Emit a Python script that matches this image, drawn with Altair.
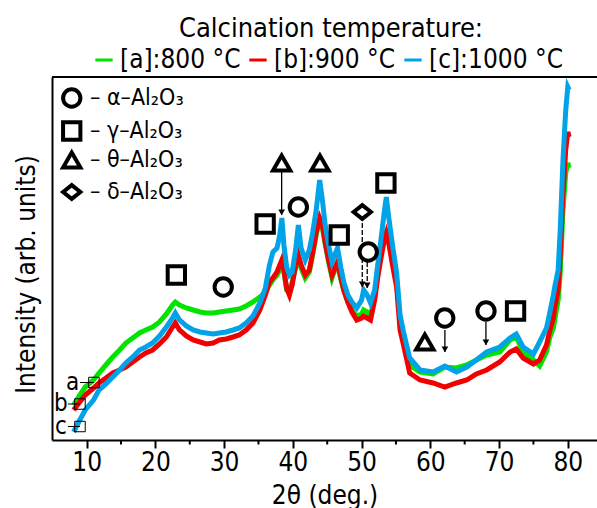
import altair as alt
import pandas as pd

FONT = "'Liberation Sans Narrow', 'DejaVu Sans Condensed', 'DejaVu Sans', sans-serif"

# 2-theta grid (deg.)
two_theta = [8.1, 9.0, 9.8, 11.0, 11.8, 12.8, 13.8, 14.8, 15.7, 16.7, 17.7, 18.6, 19.6, 20.6, 21.6,
             22.5, 22.9, 23.5, 24.5, 25.5, 26.5, 27.4, 28.4, 29.3, 30.3, 31.3, 32.2, 33.2, 34.2, 35.2,
             36.0, 36.6, 37.1, 37.7, 38.1, 38.4, 38.7, 39.1, 39.5, 39.9, 40.4, 40.8, 41.2, 41.8, 42.4,
             42.9, 43.4, 43.9, 44.3, 44.7, 45.2, 45.7, 46.1, 46.5, 47.0, 47.4, 48.0, 48.6, 49.3, 50.0,
             50.3, 50.8, 51.3, 51.9, 52.4, 52.9, 53.3, 53.6, 54.0, 54.5, 55.1, 55.6, 56.1, 57.0, 58.5,
             60.4, 62.1, 63.8, 65.3, 66.7, 68.2, 70.1, 71.6, 72.5, 73.5, 75.0, 75.9, 76.9, 77.4, 77.9,
             78.1, 78.6, 78.9, 79.3, 79.7, 80.0, 80.2]

# [a] 800 C
int_800 = [35, 45, 53, 60, 67, 75, 83, 90, 97, 102, 107, 110, 113, 118, 126,
           135, 138, 135, 132, 130, 128, 127, 127, 128, 129, 130, 131, 134, 138, 143,
           148, 155, 160, 165, 170, 175, 168, 150, 148, 158, 172, 178, 172, 162, 168,
           186, 205, 220, 212, 196, 178, 162, 170, 176, 160, 150, 138, 130, 124, 126,
           130, 128, 124, 143, 168, 188, 202, 210, 198, 178, 156, 120, 105, 75, 68,
           66, 73, 72, 75, 80, 85, 88, 100, 103, 88, 80, 74, 88, 103, 112,
           120, 140, 167, 230, 267, 277, 272]

# [b] 900 C
int_900 = [30, 38, 45, 52, 57, 62, 67, 70, 73, 78, 83, 87, 90, 96, 103,
           113, 117, 110, 104, 100, 98, 96, 97, 100, 101, 103, 105, 110, 117, 130,
           145, 158, 162, 168, 175, 180, 170, 152, 145, 155, 175, 185, 175, 165, 170,
           188, 208, 222, 215, 198, 180, 165, 172, 178, 162, 150, 138, 128, 120, 122,
           124, 122, 120, 140, 165, 185, 200, 207, 195, 175, 153, 110, 95, 67, 60,
           57, 53, 57, 60, 66, 70, 78, 88, 91, 82, 76, 80, 95, 110, 122,
           132, 150, 185, 246, 290, 308, 303]

# [c] 1000 C
int_1000 = [8, 20, 30, 40, 50, 56, 63, 70, 77, 83, 90, 93, 97, 104, 113,
            122, 127, 120, 114, 110, 108, 107, 106, 107, 108, 110, 112, 117, 124, 137,
            152, 175, 188, 192, 205, 222, 195, 173, 165, 168, 190, 215, 192, 180, 190,
            208, 230, 260, 240, 215, 195, 178, 185, 192, 172, 158, 145, 138, 132, 140,
            150, 145, 137, 150, 178, 205, 228, 243, 220, 195, 167, 125, 108, 82, 70,
            68, 74, 68, 73, 80, 88, 93, 102, 106, 93, 86, 98, 112, 128, 145,
            153, 170, 210, 280, 330, 353, 350]

series_names = ["[a]:800 °C", "[b]:900 °C", "[c]:1000 °C"]
series_colors = ["#00e400", "#f20000", "#00a2e8"]
series_values = [int_800, int_900, int_1000]

# phase identification symbols
phase_names = ["α–Al₂O₃", "γ–Al₂O₃", "θ–Al₂O₃", "δ–Al₂O₃"]
phase_shapes = ["circle", "square", "triangle-up", "M-1,0L0,-0.8L1,0L0,0.8Z"]
peak_pos = [23.05, 29.87, 35.97, 38.37, 40.8, 43.94, 46.75, 50.1, 50.97, 53.54, 59.2, 62.1, 68.1, 72.4]
peak_int = [165, 153, 216, 277, 233, 277, 205, 228, 188, 257, 98, 122, 129, 129]
peak_phase = ["γ–Al₂O₃", "α–Al₂O₃", "γ–Al₂O₃", "θ–Al₂O₃", "α–Al₂O₃", "θ–Al₂O₃", "γ–Al₂O₃",
              "δ–Al₂O₃", "α–Al₂O₃", "γ–Al₂O₃", "θ–Al₂O₃", "α–Al₂O₃", "α–Al₂O₃", "γ–Al₂O₃"]

# symbol key (top-left, inside the frame)
key_symbol_x = 7.83
key_text_x = 10.49
key_row_int = [342, 309, 280, 248]

# arrows from symbols to peaks
arrow_x = [38.37, 50.1, 50.82, 62.12, 68.09]
arrow_top = [268, 217, 178, 110, 118]
arrow_tip = [225, 153, 152, 88, 95]
arrow_dashed = ["solid", "dashed", "dashed", "solid", "solid"]

# sample tags a, b, c
tag_text = ["a", "b", "c"]
tag_label_x = [7.96, 6.26, 6.26]
tag_lead_x = [9.03, 7.28, 7.28]
tag_box_x = [11.06, 9.03, 9.03]
tag_y = [57.5, 36, 13.5]

major_ticks = [10, 20, 30, 40, 50, 60, 70, 80]
minor_ticks = [15, 25, 35, 45, 55, 65, 75]

title_text = ["Calcination temperature:"]

W, H = 545, 363

rows = []
for name, vals in zip(series_names, series_values):
    for t, v in zip(two_theta, vals):
        rows.append({"two_theta": t, "intensity": v, "series": name})
lines_df = pd.DataFrame(rows)

peaks_df = pd.DataFrame({"x": peak_pos, "y": peak_int, "phase": peak_phase})
key_df = pd.DataFrame({"phase": phase_names, "y": key_row_int,
                       "sx": [key_symbol_x] * 4, "tx": [key_text_x] * 4,
                       "label": ["– " + p for p in phase_names]})
arrows_df = pd.DataFrame({"x": arrow_x, "top": arrow_top, "tip": arrow_tip, "style": arrow_dashed})
tags_df = pd.DataFrame({"t": tag_text, "lx": tag_label_x, "l0": tag_lead_x, "bx": tag_box_x, "y": tag_y})
minor_df = pd.DataFrame({"x": minor_ticks})
title_df = pd.DataFrame({"t": title_text})

xscale = alt.Scale(domain=[4.96, 84.25], nice=False, zero=False)
yscale = alt.Scale(domain=[0, H], nice=False, zero=False)

x_axis = alt.Axis(values=major_ticks, format="d", grid=False, labelFont=FONT, labelFontSize=26,
                  labelColor="black", tickColor="black", tickSize=8, tickWidth=2,
                  domainColor="black", domainWidth=2, labelPadding=1, labelFlush=False,
                  title="2θ (deg.)", titleFont=FONT, titleFontSize=26, titleFontWeight="normal",
                  titleColor="black", titlePadding=7)
y_axis = alt.Axis(labels=False, ticks=False, grid=False, domainColor="black", domainWidth=2,
                  title="Intensity (arb. units)", titleFont=FONT, titleFontSize=26,
                  titleFontWeight="normal", titleColor="black", titlePadding=13, titleY=197)


def X(field):
    return alt.X(field, scale=xscale, axis=x_axis)


def Y(field):
    return alt.Y(field, scale=yscale, axis=y_axis)


color_scale = alt.Scale(domain=series_names, range=series_colors)
color_legend = alt.Legend(orient="none", legendX=39, legendY=-30, direction="horizontal",
                          symbolType="stroke", symbolStrokeWidth=3, symbolSize=300,
                          labelFont=FONT, labelFontSize=26, labelColor="black", labelOffset=3,
                          columnPadding=2, title=None, labelLimit=300, padding=0)
shape_scale = alt.Scale(domain=phase_names, range=phase_shapes)

layers = []
for i, name in enumerate(series_names):
    layers.append(
        alt.Chart(lines_df).transform_filter(alt.datum.series == name)
        .mark_line(strokeWidth=5, clip=True).encode(
            x=X("two_theta:Q"), y=Y("intensity:Q"),
            color=alt.Color("series:N", scale=color_scale, legend=color_legend))
    )

minor = alt.Chart(minor_df).mark_rule(color="black", strokeWidth=2).encode(
    x=X("x:Q"), y=alt.value(H), y2=alt.value(H + 4.5))

top_border = alt.Chart(title_df).mark_rule(color="black", strokeWidth=2).encode(
    x=alt.value(0), x2=alt.value(W), y=alt.value(0))

title_mark = alt.Chart(title_df).mark_text(font=FONT, fontSize=27, color="black", align="center",
                                           baseline="alphabetic").encode(
    x=alt.value(279), y=alt.value(-40), text="t:N")

arrow_lines = alt.Chart(arrows_df).mark_rule(color="black", strokeWidth=1.3).encode(
    x=X("x:Q"), y=Y("top:Q"), y2="tip:Q",
    strokeDash=alt.StrokeDash("style:N", scale=alt.Scale(domain=["solid", "dashed"],
                              range=[[1, 0], [5, 2]]), legend=None))
arrow_heads = alt.Chart(arrows_df).transform_calculate(hy="datum.tip + 2.7").mark_point(
    shape="triangle-down", filled=True, color="black", size=45, opacity=1).encode(
    x=X("x:Q"), y=Y("hy:Q"))

peaks = alt.Chart(peaks_df).mark_point(filled=False, color="black", fill="white",
                                       strokeWidth=4, size=300, opacity=1).encode(
    x=X("x:Q"), y=Y("y:Q"),
    shape=alt.Shape("phase:N", scale=shape_scale, legend=None))

key_symbols = alt.Chart(key_df).mark_point(filled=False, color="black", fill="white",
                                           strokeWidth=4, size=300, opacity=1).encode(
    x=X("sx:Q"), y=Y("y:Q"),
    shape=alt.Shape("phase:N", scale=shape_scale, legend=None))
key_text = alt.Chart(key_df).mark_text(font=FONT, fontSize=23, color="black", align="left",
                                       baseline="middle").encode(
    x=X("tx:Q"), y=Y("y:Q"), text="label:N")

tag_lines = alt.Chart(tags_df).mark_rule(color="black", strokeWidth=1).encode(
    x=X("l0:Q"), x2="bx:Q", y=Y("y:Q"))
tag_boxes = alt.Chart(tags_df).mark_point(shape="square", filled=False, color="black",
                                          strokeWidth=1, size=110, opacity=1).encode(
    x=X("bx:Q"), y=Y("y:Q"))
tag_labels = alt.Chart(tags_df).mark_text(font=FONT, fontSize=24, color="black", baseline="middle",
                                          align="center").encode(
    x=X("lx:Q"), y=Y("y:Q"), text="t:N")

chart = alt.layer(*layers, minor, top_border, title_mark, arrow_lines, arrow_heads, peaks,
                  key_symbols, key_text, tag_lines, tag_boxes, tag_labels).properties(
    width=W, height=H,
    padding={"left": 52, "top": 77, "right": 0, "bottom": 68},
    autosize=alt.AutoSizeParams(type="none"),
    background="white",
).configure_view(stroke=None)

chart.save("out.html", embed_options={"renderer": "svg", "actions": False})
